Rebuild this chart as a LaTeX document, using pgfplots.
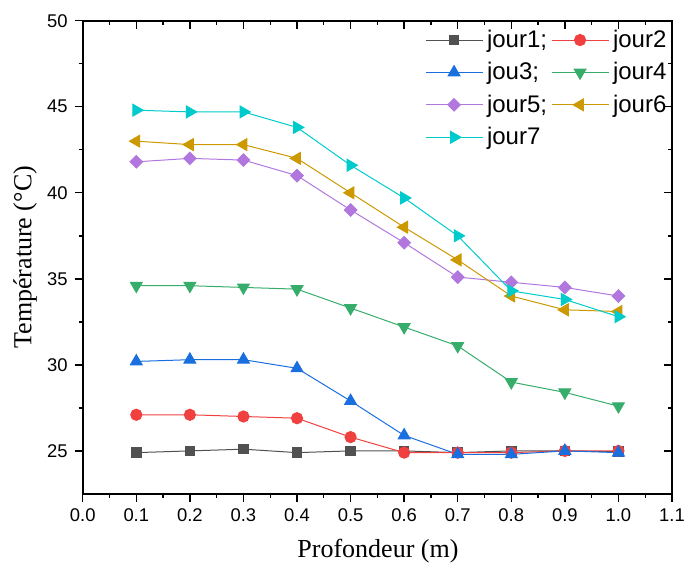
\documentclass[border=0pt]{standalone}
\usepackage{pgfplots}
\pgfplotsset{compat=1.18}
\usepackage{fontspec}
\setmainfont{Liberation Serif}
\newfontfamily\arial{Liberation Sans}

\definecolor{c1}{HTML}{515151}
\definecolor{c2}{HTML}{F14040}
\definecolor{c3}{HTML}{1A6FDF}
\definecolor{c4}{HTML}{37AD6B}
\definecolor{c5}{HTML}{B177DE}
\definecolor{c6}{HTML}{CC9900}
\definecolor{c7}{HTML}{00CBCC}

\pgfplotsset{
  frame/.style={
    scale only axis,
    width=294.5pt, height=236.5pt,
    xmin=0, xmax=1.1, ymin=22.5, ymax=50,
    xtick={0,0.1,...,1.1}, ytick={25,30,...,50},
    minor x tick num=1, minor y tick num=1,
    major tick length=4pt, minor tick length=2pt,
    axis line style={line width=0.8pt},
    every tick/.style={black, line width=0.7pt},
  },
}

\begin{document}
\begin{tikzpicture}
\begin{axis}[
    frame, name=main,
    tick align=outside,
    xtick pos=left, ytick pos=left,
    /pgf/number format/assume math mode=true,
    tick label style={font=\arial\fontsize{9.2}{10}\selectfont},
    xticklabel style={/pgf/number format/.cd, fixed, fixed zerofill, precision=1},
    xlabel={Profondeur (m)},
    ylabel={Température (°C)},
    label style={font=\fontsize{13}{15}\selectfont},
    xlabel style={at={(axis description cs:0.501,-0.12)}, anchor=center},
    ylabel style={at={(axis description cs:-0.098,0.5)}, anchor=center, rotate=0},
    every axis plot/.append style={line width=0.5pt},
    legend columns=2,
    legend cell align=left,
    legend style={draw=none, fill=none, at={(rel axis cs:0.998,0.99)}, anchor=north east,
      font=\arial\fontsize{12}{14}\selectfont, row sep=2pt, inner sep=0pt,
      /tikz/every even column/.append style={column sep=0pt}},
    legend image code/.code={\draw[mark repeat=2,mark phase=2] plot coordinates {(0cm,0cm) (0.5cm,0cm) (1cm,0cm)};},
]
\addplot[c1, mark=square*, mark size=2.4pt] coordinates {
  (0.1,24.9)(0.2,25.0)(0.3,25.1)(0.4,24.9)(0.5,25.0)(0.6,25.0)(0.7,24.9)(0.8,25.0)(0.9,25.0)(1.0,24.95)};
\addlegendentry{jour1;}
\addplot[c2, mark=*, mark size=2.8pt] coordinates {
  (0.1,27.1)(0.2,27.1)(0.3,27.0)(0.4,26.9)(0.5,25.8)(0.6,24.9)(0.7,24.9)(0.8,24.9)(0.9,25.0)(1.0,25.0)};
\addlegendentry{jour2}
\addplot[c3, mark=triangle*, mark size=3.4pt] coordinates {
  (0.1,30.2)(0.2,30.3)(0.3,30.3)(0.4,29.8)(0.5,27.9)(0.6,25.9)(0.7,24.8)(0.8,24.8)(0.9,25.0)(1.0,24.9)};
\addlegendentry{jou3;}
\addplot[c4, mark=triangle*, mark size=3.4pt, mark options={rotate=180}] coordinates {
  (0.1,34.6)(0.2,34.6)(0.3,34.5)(0.4,34.4)(0.5,33.3)(0.6,32.2)(0.7,31.1)(0.8,29.0)(0.9,28.4)(1.0,27.6)};
\addlegendentry{jour4}
\addplot[c5, mark=square*, mark size=2.2pt, mark options={rotate=45}] coordinates {
  (0.1,41.8)(0.2,42.0)(0.3,41.9)(0.4,41.0)(0.5,39.0)(0.6,37.1)(0.7,35.1)(0.8,34.8)(0.9,34.5)(1.0,34.0)};
\addlegendentry{jour5;}
\addplot[c6, mark=triangle*, mark size=3.4pt, mark options={rotate=90}] coordinates {
  (0.1,43.0)(0.2,42.8)(0.3,42.8)(0.4,42.0)(0.5,40.0)(0.6,38.0)(0.7,36.1)(0.8,34.0)(0.9,33.2)(1.0,33.1)};
\addlegendentry{jour6}
\addplot[c7, mark=triangle*, mark size=3.4pt, mark options={rotate=-90}] coordinates {
  (0.1,44.8)(0.2,44.7)(0.3,44.7)(0.4,43.8)(0.5,41.6)(0.6,39.7)(0.7,37.5)(0.8,34.3)(0.9,33.8)(1.0,32.8)};
\addlegendentry{jour7}
\end{axis}
% top and right ticks point inward
\begin{axis}[
    frame,
    tick align=inside,
    xtick pos=right, ytick pos=right,
    xticklabels={}, yticklabels={},
]
\end{axis}
\pgfresetboundingbox
\path ([shift={(-41.35pt,-38pt)}]main.south west) rectangle ([shift={(7pt,10.35pt)}]main.north east);
\end{tikzpicture}
\end{document}
